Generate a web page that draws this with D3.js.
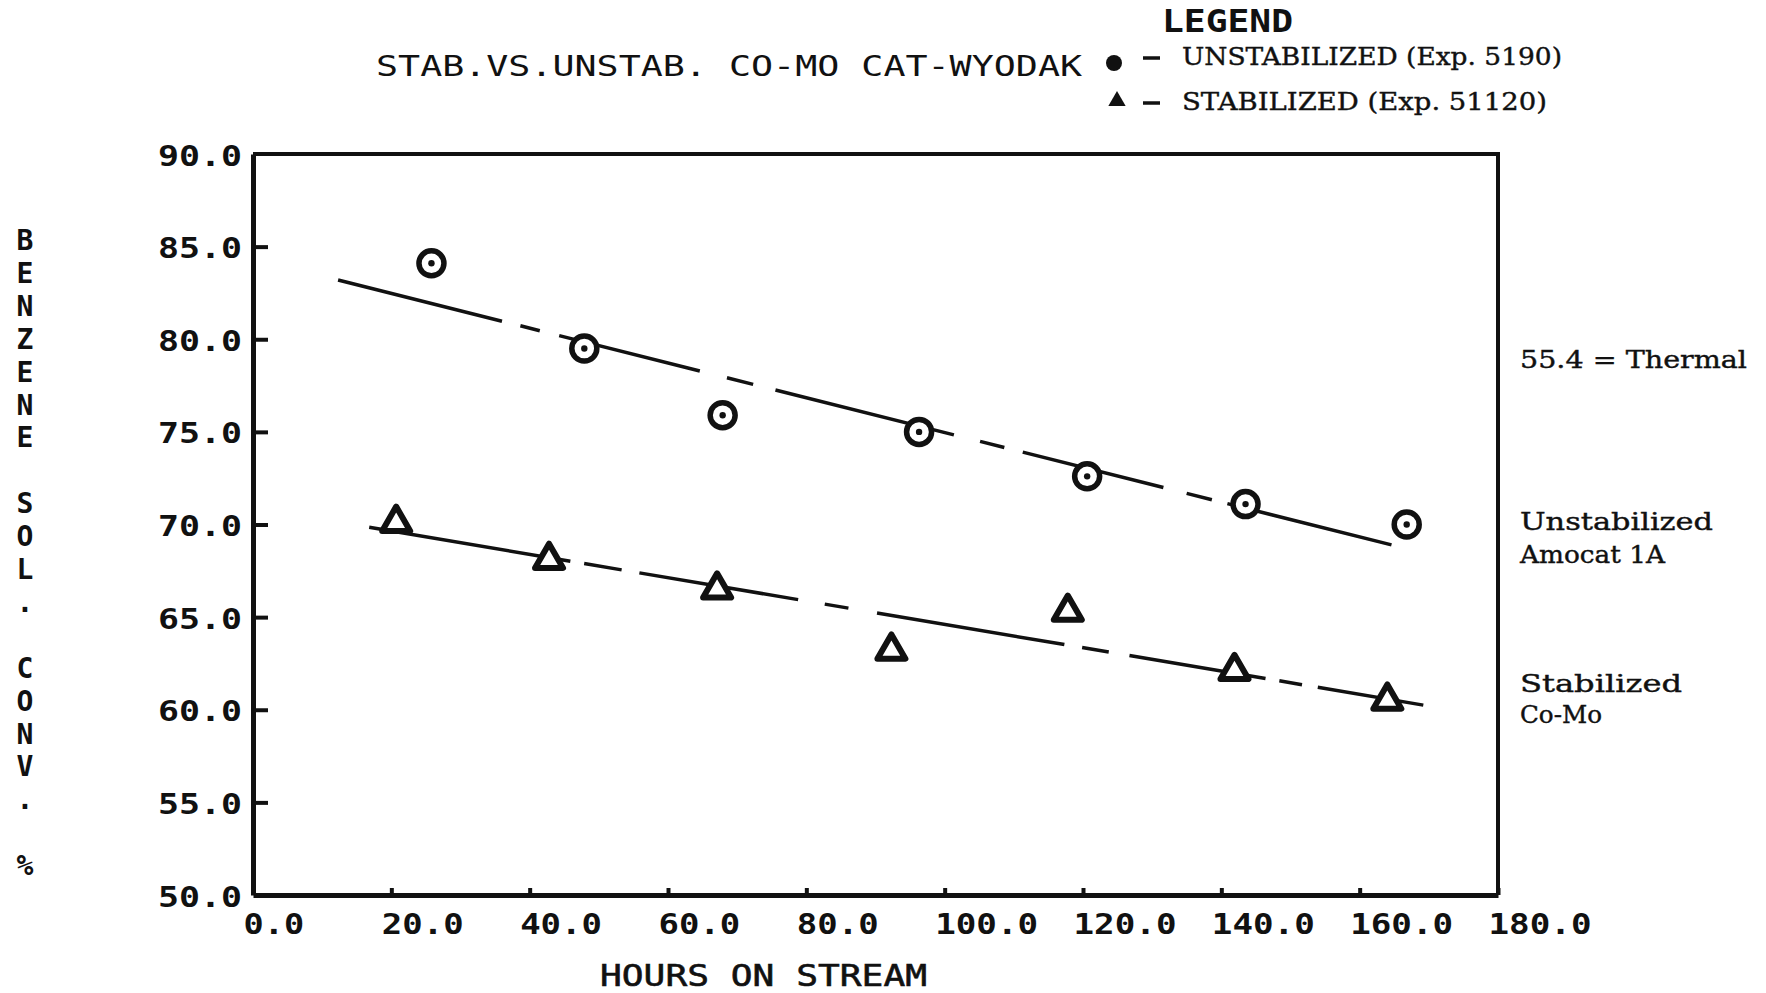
<!DOCTYPE html>
<html lang="en">
<head>
<meta charset="UTF-8">
<title>Stab vs Unstab Co-Mo Cat - Wyodak</title>
<script src="https://d3js.org/d3.v7.min.js"></script>
<style>
  body { margin: 0; background: #fff; }
  .plotter { font-family: "DejaVu Sans Mono", monospace; fill: #111; }
  .typed { font-family: "DejaVu Serif", serif; fill: #111; }
  .axis path, .axis line { stroke: #111; }
</style>
</head>
<body>
<svg width="1766" height="993"></svg>
<script>
// data
const hoursUnstab = [25.8, 47.9, 67.9, 96.3, 120.6, 143.5, 166.8];
const convUnstab  = [84.1, 79.5, 75.9, 75.0, 72.6, 71.1, 70.0];
const hoursStab   = [20.7, 42.8, 67.1, 92.3, 117.8, 141.9, 164.0];
const convStab    = [70.2, 68.2, 66.6, 63.3, 65.4, 62.2, 60.6];

// hand-drawn trend lines (end points)
const fitUnstab = [[12.3, 83.2], [164.6, 68.9]];
const fitStab   = [[16.8, 69.85], [169.2, 60.25]];

const xTicks = [0, 20, 40, 60, 80, 100, 120, 140, 160, 180];
const yTicks = [50, 55, 60, 65, 70, 75, 80, 85, 90];

const yLabel = "BENZENE SOL. CONV. %";
const legendItems = ["UNSTABILIZED (Exp. 5190)", "STABILIZED (Exp. 51120)"];
const notes = [
  {text: "55.4 = Thermal", y: 368, w: 227},
  {text: "Unstabilized", y: 530, w: 193},
  {text: "Amocat 1A", y: 563, w: 145},
  {text: "Stabilized", y: 692, w: 162},
  {text: "Co-Mo", y: 723, w: 82}
];

const svg = d3.select("svg");
const x = d3.scaleLinear().domain([0, 180]).range([253, 1498]);
const y = d3.scaleLinear().domain([50, 90]).range([895, 154]);

// frame (top + right)
svg.append("path")
  .attr("d", `M${x(0)},${y(90)}H${x(180)}V${y(50)}`)
  .attr("fill", "none").attr("stroke", "#111").attr("stroke-width", 4);

// x axis
const gx = svg.append("g").attr("class", "axis")
  .attr("transform", `translate(0,${y(50)})`)
  .call(d3.axisBottom(x).tickValues(xTicks).tickSize(-7).tickSizeOuter(0).tickFormat(d3.format(".1f")));
gx.select(".domain").attr("stroke-width", 5);
gx.selectAll(".tick line").attr("stroke-width", 4);
gx.selectAll(".tick text")
  .attr("class", "plotter")
  .attr("text-anchor", "start")
  .attr("x", -10).attr("y", 39).attr("dy", null)
  .attr("font-size", 29).attr("font-weight", "bold")
  .attr("textLength", d => d3.format(".1f")(d).length * 21.2 - 3)
  .attr("lengthAdjust", "spacingAndGlyphs");

// y axis
const gy = svg.append("g").attr("class", "axis")
  .attr("transform", `translate(${x(0)},0)`)
  .call(d3.axisLeft(y).tickValues(yTicks).tickSize(-15).tickSizeOuter(0).tickFormat(d3.format(".1f")));
gy.select(".domain").attr("stroke-width", 5);
gy.selectAll(".tick line").attr("stroke-width", 4);
gy.selectAll(".tick text")
  .attr("class", "plotter")
  .attr("text-anchor", "end")
  .attr("x", -11).attr("dy", null).attr("y", 11)
  .attr("font-size", 29).attr("font-weight", "bold")
  .attr("textLength", 84)
  .attr("lengthAdjust", "spacingAndGlyphs");
gy.selectAll(".tick").filter(d => d === 50 || d === 90).select("line").remove();

// title + axis titles
svg.append("text").attr("class", "plotter")
  .attr("x", 376).attr("y", 76)
  .attr("font-size", 29)
  .attr("textLength", 706).attr("lengthAdjust", "spacingAndGlyphs")
  .text("STAB.VS.UNSTAB. CO-MO CAT-WYODAK");

svg.append("text").attr("class", "plotter")
  .attr("x", 600).attr("y", 986)
  .attr("font-size", 31)
  .attr("stroke", "#111").attr("stroke-width", 0.6)
  .attr("textLength", 327).attr("lengthAdjust", "spacingAndGlyphs")
  .text("HOURS ON STREAM");

svg.append("g").selectAll("text")
  .data(yLabel.split(""))
  .join("text").attr("class", "plotter")
  .attr("x", 25).attr("y", (d, i) => 250 + i * 32.9)
  .attr("text-anchor", "middle")
  .attr("font-size", 28).attr("font-weight", "bold")
  .text(d => d);

// trend lines
const line = d3.line().x(d => x(d[0])).y(d => y(d[1]));
svg.append("path").datum(fitUnstab)
  .attr("d", line).attr("fill", "none").attr("stroke", "#111").attr("stroke-width", 3.5)
  .attr("stroke-dasharray", "169,19,20,20,145,28,27,23,184,27,25,19,145,24,26,16,300");
svg.append("path").datum(fitStab)
  .attr("d", line).attr("fill", "none").attr("stroke", "#111").attr("stroke-width", 3.5)
  .attr("stroke-dasharray", "204,14,38,18,161,27,24,29,190,18,27,21,138,14,23,16,300");

// unstabilized: circled dot
const gu = svg.append("g").selectAll("g")
  .data(hoursUnstab.map((h, i) => [h, convUnstab[i]]))
  .join("g").attr("transform", d => `translate(${x(d[0])},${y(d[1])})`);
gu.append("circle").attr("r", 12.5).attr("fill", "#fff").attr("stroke", "#111").attr("stroke-width", 5.5);
gu.append("circle").attr("r", 3.2).attr("fill", "#111");

// stabilized: open triangle
const tri = d3.symbol().type(d3.symbolTriangle).size(340);
svg.append("g").selectAll("path")
  .data(hoursStab.map((h, i) => [h, convStab[i]]))
  .join("path")
  .attr("transform", d => `translate(${x(d[0])},${y(d[1]) + 2})`)
  .attr("d", tri).attr("fill", "#fff").attr("stroke", "#111")
  .attr("stroke-width", 6).attr("stroke-linejoin", "round");

// legend
svg.append("text").attr("class", "plotter")
  .attr("x", 1162).attr("y", 32)
  .attr("font-size", 32).attr("font-weight", "bold")
  .attr("textLength", 131).attr("lengthAdjust", "spacingAndGlyphs")
  .text("LEGEND");
svg.append("circle").attr("cx", 1114).attr("cy", 63).attr("r", 8).attr("fill", "#111");
svg.append("path").attr("d", d3.symbol().type(d3.symbolTriangle).size(130))
  .attr("transform", "translate(1117,101)").attr("fill", "#111");
const legY = [65, 110], legW = [380, 365];
legendItems.forEach((t, i) => {
  svg.append("line").attr("x1", 1143).attr("x2", 1160)
    .attr("y1", legY[i] - 7).attr("y2", legY[i] - 7)
    .attr("stroke", "#111").attr("stroke-width", 3.5);
  svg.append("text").attr("class", "typed")
    .attr("x", 1182).attr("y", legY[i])
    .attr("font-size", 25)
    .attr("stroke", "#111").attr("stroke-width", 0.4)
    .attr("textLength", legW[i]).attr("lengthAdjust", "spacingAndGlyphs")
    .text(t);
});

// side notes
svg.append("g").selectAll("text")
  .data(notes)
  .join("text").attr("class", "typed")
  .attr("x", 1520).attr("y", d => d.y)
  .attr("font-size", 24)
  .attr("stroke", "#111").attr("stroke-width", 0.4)
  .attr("textLength", d => d.w).attr("lengthAdjust", "spacingAndGlyphs")
  .text(d => d.text);
</script>
</body>
</html>
